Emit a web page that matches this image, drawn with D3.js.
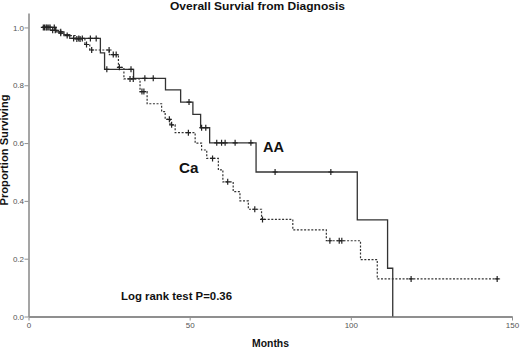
<!DOCTYPE html>
<html><head><meta charset="utf-8">
<script src="https://cdn.jsdelivr.net/npm/d3@7"></script>
<style>html,body{margin:0;padding:0;background:#fff;}svg{display:block;font-family:"Liberation Sans",Arial,sans-serif;}</style>
</head><body><svg id="c" width="520" height="348"></svg>
<script>
const xTicks = [0, 50, 100, 150];
const yTicks = [0, 0.2, 0.4, 0.6, 0.8, 1.0];
// AA group (solid)
const aaTimes = [4.2, 8.5, 11.0, 12.8, 22.3, 23.6, 32.6, 42.5, 47.2, 51.0, 53.4, 56.2, 70.6, 102.0, 111.4, 113.0];
const aaSurv  = [1.0, 0.985, 0.975, 0.962, 0.912, 0.855, 0.824, 0.784, 0.742, 0.699, 0.653, 0.601, 0.50, 0.334, 0.167, 0.0];
const aaCensor = [4.6, 5.5, 6.7, 8.0, 10.0, 14.0, 15.6, 16.7, 19.2, 21.0, 24.3, 31.8, 36.1, 38.7, 49.8, 53.7, 55.0, 58.4, 59.9, 61.0, 64.1, 69.0, 76.5, 93.8];
// Ca group (dashed)
const caTimes = [4.2, 7.0, 9.5, 11.0, 14.5, 17.5, 19.0, 25.1, 27.9, 29.6, 34.6, 36.8, 41.3, 42.4, 43.9, 45.5, 51.7, 53.7, 55.3, 58.9, 60.3, 63.5, 65.6, 68.2, 72.3, 82.0, 92.4, 103.0, 108.2, 146.3];
const caSurv  = [1.0, 0.99, 0.98, 0.972, 0.96, 0.941, 0.922, 0.906, 0.862, 0.822, 0.778, 0.736, 0.709, 0.682, 0.663, 0.636, 0.60, 0.576, 0.547, 0.507, 0.466, 0.432, 0.40, 0.371, 0.336, 0.30, 0.262, 0.197, 0.13, 0.13];
const caCensor = [5.0, 5.8, 6.3, 7.5, 8.3, 10.0, 12.0, 15.0, 16.0, 18.0, 19.6, 25.0, 26.3, 27.2, 28.2, 31.5, 32.5, 35.2, 35.8, 43.7, 44.4, 49.6, 57.1, 61.8, 70.2, 72.6, 93.5, 96.4, 97.2, 118.7, 145.4];

const svg = d3.select("#c");
const x = d3.scaleLinear().domain([0,150]).range([28.5,512]);
const y = d3.scaleLinear().domain([0,1.05]).range([316.5,13]);
const axisCol = "#8f8f8f";

// y axis
const ya = svg.append("g").attr("transform","translate(28.5,0)")
  .call(d3.axisLeft(y).tickValues(yTicks).tickFormat(d3.format(".1f")).tickSize(4).tickSizeOuter(0));
ya.select(".domain").attr("stroke",axisCol).attr("stroke-width",1.6);
ya.selectAll(".tick line").attr("stroke",axisCol);
ya.selectAll(".tick text").attr("fill","#555").attr("font-size","8px").attr("x",-4.5).attr("font-family","Liberation Sans, Arial, sans-serif");

// x axis
const xa = svg.append("g").attr("transform","translate(0,316.5)")
  .call(d3.axisBottom(x).tickValues(xTicks).tickSize(4).tickSizeOuter(0));
xa.select(".domain").attr("stroke",axisCol).attr("stroke-width",2);
xa.selectAll(".tick line").attr("stroke",axisCol);
xa.selectAll(".tick text").attr("fill","#555").attr("font-size","8px").attr("y",6).attr("font-family","Liberation Sans, Arial, sans-serif");

const line = d3.line().x(d=>x(d[0])).y(d=>y(d[1])).curve(d3.curveStepAfter);
const aaPts = aaTimes.map((t,i)=>[t,aaSurv[i]]);
const caPts = caTimes.map((t,i)=>[t,caSurv[i]]);

svg.append("path").attr("d",line(caPts)).attr("fill","none").attr("stroke","#333").attr("stroke-width",1.2).attr("stroke-dasharray","2,1.6");
svg.append("path").attr("d",line(aaPts)).attr("fill","none").attr("stroke","#333").attr("stroke-width",1.3);

function survAt(times, surv, t){ const i = d3.bisectRight(times, t) - 1; return surv[Math.max(0,i)]; }
const plus = "M-2.5,0H2.5M0,-3V3";
svg.append("g").selectAll("path").data(aaCensor).join("path")
  .attr("d",plus).attr("transform",t=>`translate(${x(t)},${y(survAt(aaTimes,aaSurv,t))})`)
  .attr("stroke","#222").attr("stroke-width",1.2).attr("fill","none");
svg.append("g").selectAll("path").data(caCensor).join("path")
  .attr("d",plus).attr("transform",t=>`translate(${x(t)},${y(survAt(caTimes,caSurv,t))})`)
  .attr("stroke","#222").attr("stroke-width",1.2).attr("fill","none");

// texts
svg.append("text").attr("x",257.5).attr("y",10).attr("text-anchor","middle")
  .attr("font-size","11px").attr("font-weight","bold").attr("fill","#111")
  .attr("textLength",175).attr("lengthAdjust","spacingAndGlyphs").text("Overall Survial from Diagnosis");
svg.append("text").attr("transform","translate(8,150) rotate(-90)").attr("text-anchor","middle")
  .attr("font-size","10px").attr("font-weight","bold").attr("fill","#111")
  .attr("textLength",111).attr("lengthAdjust","spacingAndGlyphs").text("Proportion Surviving");
svg.append("text").attr("x",270.5).attr("y",347).attr("text-anchor","middle")
  .attr("font-size","10.4px").attr("font-weight","bold").attr("fill","#111").text("Months");
svg.append("text").attr("x",176.5).attr("y",299.5).attr("text-anchor","middle")
  .attr("font-size","11px").attr("font-weight","bold").attr("fill","#111")
  .attr("textLength",111).attr("lengthAdjust","spacingAndGlyphs").text("Log rank test P=0.36");
svg.append("text").attr("x",263).attr("y",151.5).attr("font-size","15.5px").attr("font-weight","bold").attr("fill","#111")
  .attr("textLength",21).attr("lengthAdjust","spacingAndGlyphs").text("AA");
svg.append("text").attr("x",179).attr("y",173).attr("font-size","15.5px").attr("font-weight","bold").attr("fill","#111")
  .attr("textLength",19.5).attr("lengthAdjust","spacingAndGlyphs").text("Ca");
</script></body></html>
